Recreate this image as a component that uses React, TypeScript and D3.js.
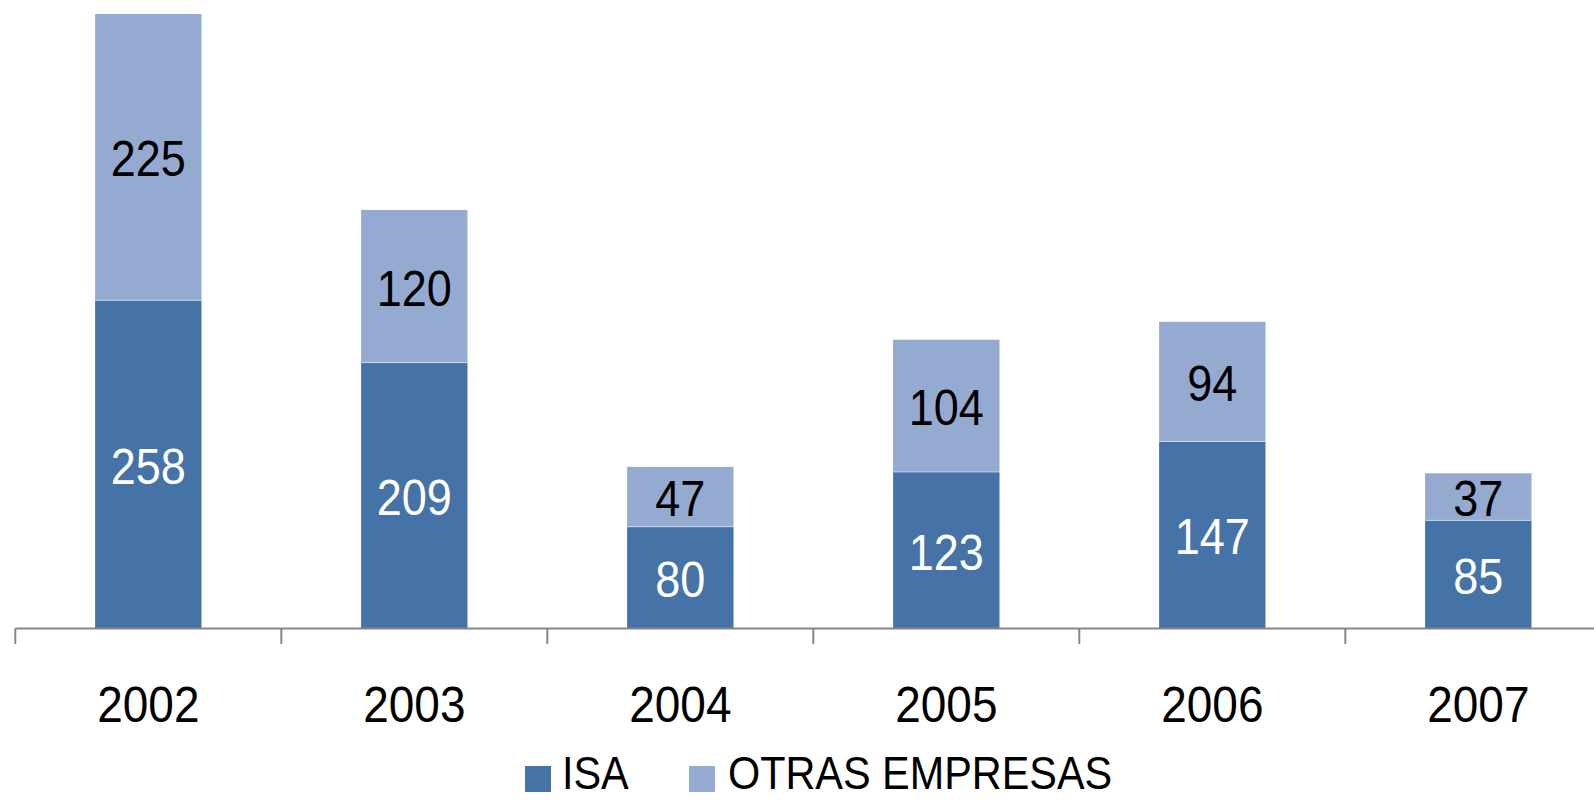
import React from "react";
import * as d3 from "d3";

const years = ["2002", "2003", "2004", "2005", "2006", "2007"];
const isa = [258, 209, 80, 123, 147, 85];
const otras = [225, 120, 47, 104, 94, 37];
const seriesNames = ["ISA", "OTRAS EMPRESAS"];
const colors = ["#4673A7", "#95AAD0"];

const W = 1594;
const H = 800;
const axisY = 628.5;
const FONT = "'Liberation Sans', Arial, sans-serif";

export default function App() {
  const x = d3
    .scaleBand<string>()
    .domain(years)
    .range([15.3, 15.3 + 266 * 6])
    .paddingInner(0.6)
    .paddingOuter(0.3);
  const y = d3.scaleLinear().domain([0, 483]).range([axisY, 14]);

  const stackData = years.map((yr, i) => ({ year: yr, ISA: isa[i], OTRAS: otras[i] }));
  const stacked = d3.stack<any>().keys(["ISA", "OTRAS"])(stackData);

  const step = x.step();
  const ticks = d3.range(years.length + 1).map((i) => 15.3 + i * step);

  const label = (txt: string, cx: number, cy: number, fill: string, fs: number, sx: number, anchor = "middle", baseline = "central") => (
    <text
      transform={`translate(${cx},${cy}) scale(${sx},1)`}
      textAnchor={anchor}
      dominantBaseline={baseline}
      fontFamily={FONT}
      fontSize={fs}
      fill={fill}
    >
      {txt}
    </text>
  );

  return (
    <svg width={W} height={H} style={{ position: "absolute", left: 0, top: 0, background: "#fff" }}>
      {stacked.map((layer, li) => (
        <g key={li}>
          {layer.map((d: any, i: number) => {
            const x0 = x(years[i])!;
            const top = y(d[1]);
            const bot = y(d[0]);
            return (
              <g key={i}>
                <rect x={x0} y={top} width={x.bandwidth()} height={bot - top} fill={colors[li]} />
                {li === 1 && (
                  <line x1={x0} x2={x0 + x.bandwidth()} y1={bot} y2={bot} stroke="#ffffff" strokeOpacity={0.5} strokeWidth={1} />
                )}
                {label(String(d[1] - d[0]), x0 + x.bandwidth() / 2, (top + bot) / 2 + 2, li === 0 ? "#ffffff" : "#000000", 50, 0.9)}
              </g>
            );
          })}
        </g>
      ))}
      <line x1={15.3} x2={W} y1={axisY} y2={axisY} stroke="#868686" strokeWidth={2} />
      {ticks.map((t, i) => (
        <line key={i} x1={t} x2={t} y1={axisY} y2={644} stroke="#868686" strokeWidth={2} />
      ))}
      {years.map((yr) => (
        <g key={yr}>{label(yr, x(yr)! + x.bandwidth() / 2, 705, "#000", 50, 0.92)}</g>
      ))}
      <g>
        <rect x={525} y={766} width={26} height={26} fill={colors[0]} />
        {label(seriesNames[0], 562, 789, "#000", 46, 0.9, "start", "alphabetic")}
        <rect x={689} y={766} width={26} height={26} fill={colors[1]} />
        {label(seriesNames[1], 728, 789, "#000", 46, 0.9, "start", "alphabetic")}
      </g>
    </svg>
  );
}
